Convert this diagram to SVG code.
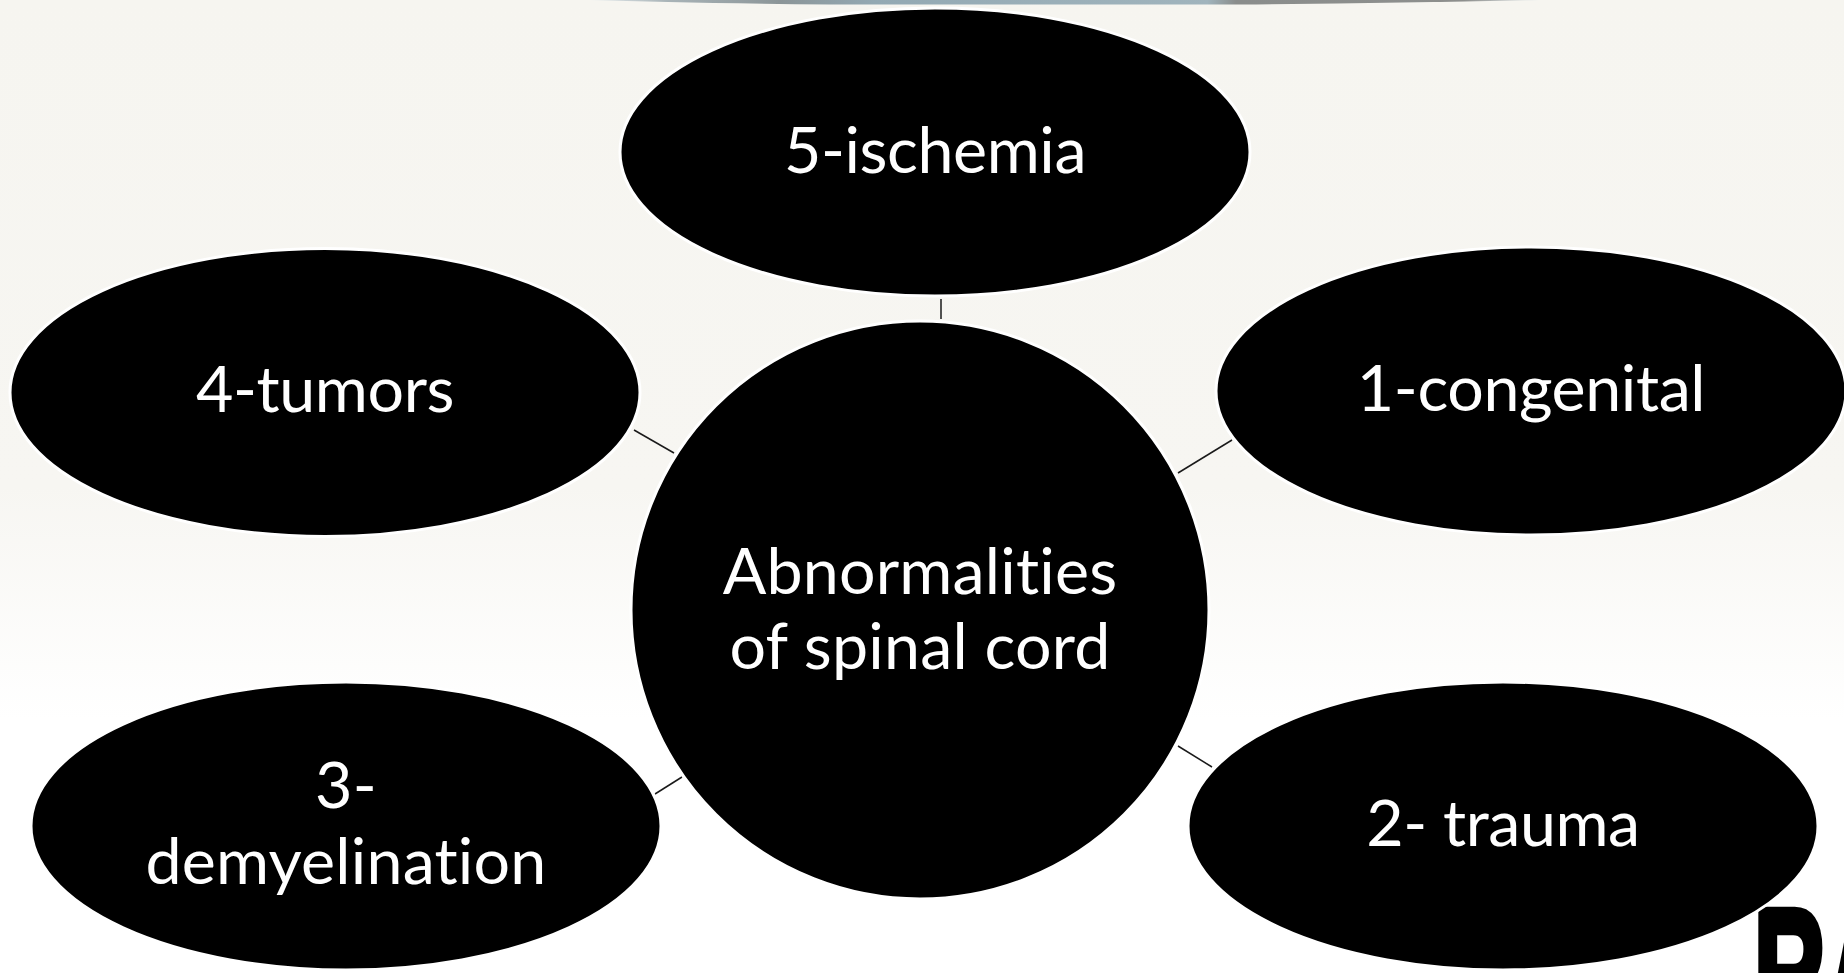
<svg xmlns="http://www.w3.org/2000/svg" width="1844" height="973" viewBox="0 0 1844 973">
<style>
.n{fill:#000;stroke:#fff;stroke-width:3}
.t{fill:#fff;font-family:Lato,"Open Sans",sans-serif;font-size:64.500px;text-anchor:middle;font-variant-ligatures:none;letter-spacing:.2px}
.s{letter-spacing:-.4px}
.c{stroke:#1a1a1a;stroke-width:1.5;fill:none}
</style>
<defs>
<linearGradient id="bg" x1="0" y1="0" x2="0" y2="1"><stop offset="0" stop-color="#f6f5f0"/><stop offset="0.5" stop-color="#f7f6f2"/><stop offset="0.74" stop-color="#ffffff"/><stop offset="1" stop-color="#ffffff"/></linearGradient>
<linearGradient id="strip" x1="0" y1="0" x2="1" y2="0"><stop offset="0" stop-color="#e8eef0"/><stop offset="0.08" stop-color="#a9b4b8"/><stop offset="0.2" stop-color="#8b9598"/><stop offset="0.3" stop-color="#93a9b3"/><stop offset="0.65" stop-color="#a0b4bd"/><stop offset="0.68" stop-color="#8a8d8c"/><stop offset="0.92" stop-color="#8d8f8d"/><stop offset="1" stop-color="#e8eef0"/></linearGradient>
</defs>
<rect id="background" width="1844" height="973" fill="url(#bg)"/>
<path id="top-strip" d="M590 0H1540Q1400 3 1240 4.500H830Q680 3 590 0Z" fill="url(#strip)"/>
<text id="logo" transform="translate(1754 1035) scale(.66 1.2)" x="0" y="0" font-family="Liberation Sans,sans-serif" font-weight="700" font-size="150" fill="#000" stroke="#000" stroke-width="7">RA</text>
<g id="connectors">
<line class="c" x1="941" y1="299" x2="941" y2="319"/>
<line class="c" x1="1232" y1="440" x2="1178" y2="473"/>
<line class="c" x1="634" y1="430" x2="674" y2="453"/>
<line class="c" x1="1178" y1="746" x2="1212" y2="767"/>
<line class="c" x1="655" y1="794" x2="682" y2="777"/>
</g>
<g id="node-center"><ellipse class="n" cx="920" cy="610" rx="289" ry="289"/>
<text class="t" x="920" y="594">Abnormalities</text><text class="t" x="920" y="669">of spinal cord</text></g>
<g id="node-5"><ellipse class="n" cx="935" cy="152" rx="315" ry="144"/><text class="t s" x="935" y="173">5-ischemia</text></g>
<g id="node-1"><ellipse class="n" cx="1531" cy="391" rx="315" ry="144"/><text class="t s" x="1531" y="411">1-congenital</text></g>
<g id="node-2"><ellipse class="n" cx="1503" cy="826" rx="315" ry="144"/><text class="t s" x="1503" y="846">2- trauma</text></g>
<g id="node-3"><ellipse class="n" cx="346" cy="826" rx="315" ry="144"/><text class="t" x="346" y="808">3-</text><text class="t" x="346" y="884">demyelination</text></g>
<g id="node-4"><ellipse class="n" cx="325" cy="392.500" rx="315" ry="144"/><text class="t s" x="325" y="412">4-tumors</text></g>
</svg>
